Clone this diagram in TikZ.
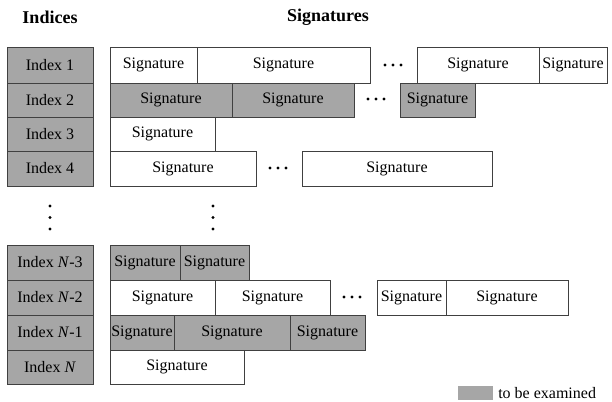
\documentclass[tikz,border=0pt]{standalone}
\usepackage{fontspec}
\setmainfont{Liberation Serif}
\begin{document}
\begin{tikzpicture}[x=0.75pt,y=-0.75pt,
  cellbox/.style={draw=black!75, line width=0.75pt, inner sep=0pt, outer sep=0pt,
    anchor=north west, font=\fontsize{12}{14}\selectfont},
  marked/.style={cellbox, fill=black!35},
  plain/.style={cellbox, fill=white},
  head/.style={font=\fontsize{13.5}{16}\selectfont\bfseries},
  dot/.style={circle, fill=black, inner sep=0pt, minimum size=2.6pt}]
\useasboundingbox (0,0) rectangle (612,401);
% cell: name, x1, y1, x2, y2, style, text
\newcommand{\cell}[7]{\node[#6, minimum width={(#4-#2)*0.75pt}, minimum height={(#5-#3)*0.75pt}] (#1) at (#2,#3) {#7};}
% headings
\node[head] (hIdx) at (50,17) {Indices};
\node[head] (hSig) at (328,17) {Signatures};
% index column
\cell{i1}{7}{47}{93}{83}{marked}{Index 1}
\cell{i2}{7}{83}{93}{117}{marked}{Index 2}
\cell{i3}{7}{117}{93}{151}{marked}{Index 3}
\cell{i4}{7}{151}{93}{186}{marked}{Index 4}
\cell{iN3}{7}{245}{93}{280}{marked}{Index \textit{N}-3}
\cell{iN2}{7}{280}{93}{315}{marked}{Index \textit{N}-2}
\cell{iN1}{7}{315}{93}{350}{marked}{Index \textit{N}-1}
\cell{iN}{7}{350}{93}{384}{marked}{Index \textit{N}}
% row 1
\cell{s1a}{110}{47}{197}{83}{plain}{Signature}
\cell{s1b}{197}{47}{370}{83}{plain}{Signature}
\cell{s1c}{417}{47}{539}{83}{plain}{Signature}
\cell{s1d}{539}{47}{607}{83}{plain}{Signature}
% row 2
\cell{s2a}{110}{83}{232}{117}{marked}{Signature}
\cell{s2b}{232}{83}{354}{117}{marked}{Signature}
\cell{s2c}{400}{83}{475}{117}{marked}{Signature}
% row 3
\cell{s3a}{110}{117}{215}{151}{plain}{Signature}
% row 4
\cell{s4a}{110}{151}{256}{186}{plain}{Signature}
\cell{s4b}{302}{151}{492}{186}{plain}{Signature}
% row N-3
\cell{sN3a}{110}{245}{180}{280}{marked}{Signature}
\cell{sN3b}{180}{245}{249}{280}{marked}{Signature}
% row N-2
\cell{sN2a}{110}{280}{215}{315}{plain}{Signature}
\cell{sN2b}{215}{280}{330}{315}{plain}{Signature}
\cell{sN2c}{377}{280}{446}{315}{plain}{Signature}
\cell{sN2d}{446}{280}{568}{315}{plain}{Signature}
% row N-1
\cell{sN1a}{110}{315}{174}{350}{marked}{Signature}
\cell{sN1b}{174}{315}{290}{350}{marked}{Signature}
\cell{sN1c}{290}{315}{365}{350}{marked}{Signature}
% row N
\cell{sNa}{110}{350}{244}{384}{plain}{Signature}
% horizontal ellipses
\foreach \y/\x in {65/393, 99/376, 168/278, 297/352}{
  \node[dot] at (\x-8,\y) {};
  \node[dot] at (\x,\y) {};
  \node[dot] at (\x+8,\y) {};
}
% vertical ellipses
\foreach \x in {50, 213}{
  \node[dot] at (\x,206) {};
  \node[dot] at (\x,217.5) {};
  \node[dot] at (\x,229) {};
}
% legend
\node[fill=black!35, inner sep=0pt, minimum width=26.25pt, minimum height=10.5pt, anchor=west] (key) at (458,393) {};
\node[anchor=west, inner sep=0pt, font=\fontsize{12}{14}\selectfont] (keytext) at (498,393) {to be examined};
\end{tikzpicture}
\end{document}
